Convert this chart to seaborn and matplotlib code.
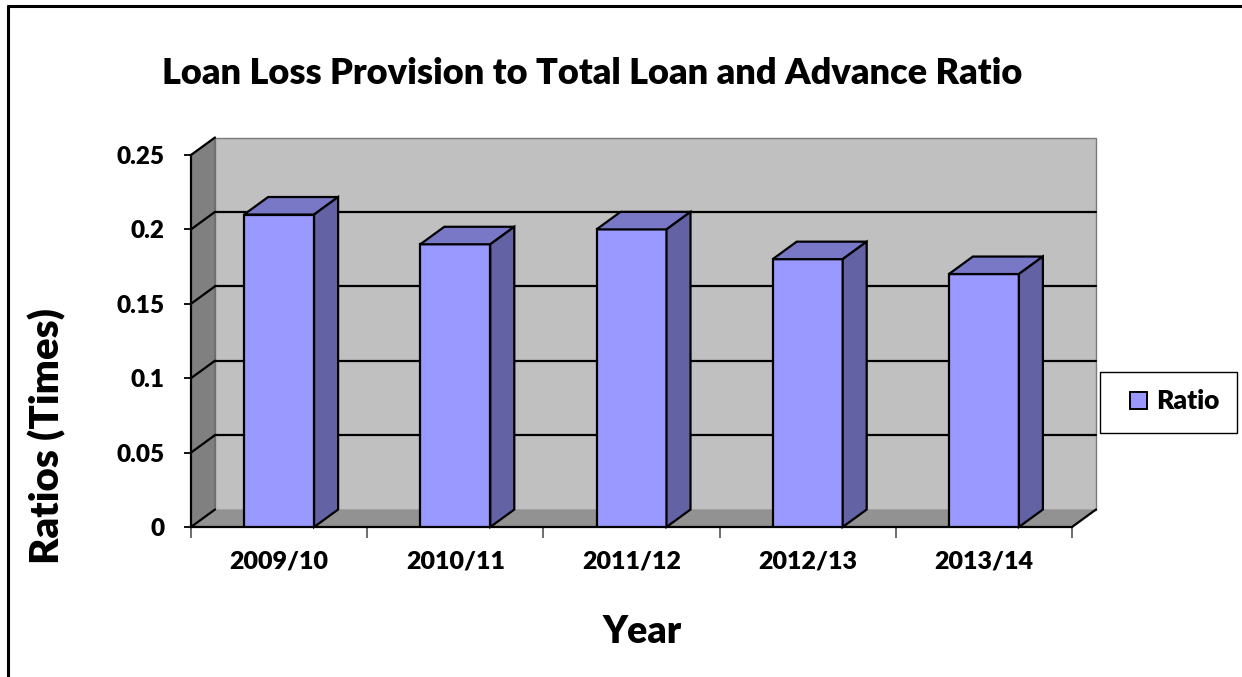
import matplotlib
matplotlib.use("Agg")
import matplotlib.pyplot as plt
import seaborn as sns
import pandas as pd
from matplotlib.patches import Polygon, Rectangle
from matplotlib.lines import Line2D

years = ["2009/10", "2010/11", "2011/12", "2012/13", "2013/14"]
ratios = [0.21, 0.19, 0.20, 0.18, 0.17]
y_ticks = [0, 0.05, 0.1, 0.15, 0.2, 0.25]
y_tick_labels = ["0", "0.05", "0.1", "0.15", "0.2", "0.25"]
series_name = "Ratio"

FRONT = "#9999FF"
TOP = "#7878C6"
SIDE = "#6262A4"
WALL_BACK = "#C0C0C0"
WALL_LEFT = "#808080"
FLOOR = "#929292"
WEIGHT = "heavy"

sns.set_theme(style="white")
plt.rcParams["font.family"] = ["Lato", "DejaVu Sans"]
plt.rcParams["text.color"] = "black"
plt.rcParams["xtick.color"] = "black"
plt.rcParams["ytick.color"] = "black"
plt.rcParams["xtick.labelcolor"] = "black"
plt.rcParams["ytick.labelcolor"] = "black"

W, H = 1242, 677
fig = plt.figure(figsize=(W / 100, H / 100), dpi=100)
fig.patch.set_facecolor("white")

ax = fig.add_axes([191 / W, 1 - 527 / H, (1072 - 191) / W, (527 - 155) / H])
ax.set_facecolor("none")

df = pd.DataFrame({"Year": years, "Ratio": ratios})
sns.barplot(data=df, x="Year", y="Ratio", color=FRONT, saturation=1,
            width=70 / 176.2, edgecolor="black", linewidth=1.6,
            ax=ax, zorder=5)
bars = list(ax.patches)

ax.set_xlim(-0.5, 4.5)
ax.set_ylim(0, 0.25)

# depth of the 3-D box in data units
dx = 24 / 176.2
dy = 17.5 / 1488
x0, x1 = -0.5, 4.5
ymax = 0.25

# walls and floor
ax.add_patch(Rectangle((x0 + dx, dy), x1 - x0, ymax, facecolor=WALL_BACK,
                       edgecolor="#7a7a7a", linewidth=1.0, clip_on=False, zorder=0.5))
ax.add_patch(Polygon([(x0, 0), (x0 + dx, dy), (x0 + dx, ymax + dy), (x0, ymax)],
                     closed=True, facecolor=WALL_LEFT, edgecolor="#6a6a6a",
                     linewidth=1.0, clip_on=False, zorder=0.6))
ax.add_patch(Polygon([(x0, 0), (x1, 0), (x1 + dx, dy), (x0 + dx, dy)],
                     closed=True, facecolor=FLOOR, edgecolor="none",
                     clip_on=False, zorder=0.6))

# gridlines on back wall and left wall
for yv in y_ticks:
    if 0 < yv < ymax:
        ax.add_line(Line2D([x0 + dx, x1 + dx], [yv + dy, yv + dy], color="black",
                           linewidth=1.6, clip_on=False, zorder=1))
    ax.add_line(Line2D([x0, x0 + dx], [yv, yv + dy], color="black",
                       linewidth=1.6, clip_on=False, zorder=1))
ax.add_line(Line2D([x1, x1 + dx], [0, dy], color="black", linewidth=1.6,
                   clip_on=False, zorder=1))

# top and side faces of each column
for p in bars:
    bx, bw, bh = p.get_x(), p.get_width(), p.get_height()
    ax.add_patch(Polygon([(bx, bh), (bx + bw, bh), (bx + bw + dx, bh + dy), (bx + dx, bh + dy)],
                         closed=True, facecolor=TOP, edgecolor="black", linewidth=1.6,
                         clip_on=False, zorder=5))
    ax.add_patch(Polygon([(bx + bw, 0), (bx + bw + dx, dy), (bx + bw + dx, bh + dy), (bx + bw, bh)],
                         closed=True, facecolor=SIDE, edgecolor="black", linewidth=1.6,
                         clip_on=False, zorder=5))

# axes styling
for s in ["top", "right"]:
    ax.spines[s].set_visible(False)
for s in ["left", "bottom"]:
    ax.spines[s].set_color("black")
    ax.spines[s].set_linewidth(1.6)
    ax.spines[s].set_zorder(2)
ax.grid(False)

ax.set_yticks(y_ticks)
ax.set_yticklabels(y_tick_labels, fontsize=17.5, fontweight=WEIGHT)
ax.tick_params(axis="y", which="major", direction="out", length=5, width=1.3,
               color="black", pad=14, left=True)
ax.set_xticks(range(len(years)))
ax.set_xticklabels(years, fontsize=18, fontweight=WEIGHT)
ax.set_xticks([i - 0.5 for i in range(len(years) + 1)], minor=True)
ax.tick_params(axis="x", which="major", length=0, pad=17)
ax.tick_params(axis="x", which="minor", direction="out", length=8, width=1.2,
               color="#555555", bottom=True)

ax.set_xlabel("")
ax.set_ylabel("")
fig.text(642 / W, 1 - 632 / H, "Year", fontsize=27, fontweight=WEIGHT,
         ha="center", va="center")
fig.text(47 / W, 1 - 436 / H, "Ratios (Times)", fontsize=29, fontweight=WEIGHT,
         ha="center", va="center", rotation=90)
fig.text(592 / W, 1 - 73 / H, "Loan Loss Provision to Total Loan and Advance Ratio",
         fontsize=26, fontweight=WEIGHT, ha="center", va="center")

# legend
fig.patches.append(Rectangle((1100 / W, 1 - 433 / H), 137 / W, 61 / H,
                             transform=fig.transFigure, facecolor="white",
                             edgecolor="black", linewidth=1.0, zorder=3))
fig.patches.append(Rectangle((1130 / W, 1 - 409 / H), 17 / W, 17 / H,
                             transform=fig.transFigure, facecolor=FRONT,
                             edgecolor="black", linewidth=1.4, zorder=4))
fig.text(1156 / W, 1 - 401 / H, series_name, fontsize=19, fontweight=WEIGHT,
         ha="left", va="center", zorder=5)

# outer frame (top and left edges)
fig.add_artist(Line2D([8 / W, 1], [1 - 5.5 / H, 1 - 5.5 / H], transform=fig.transFigure,
                      color="black", linewidth=2.2))
fig.add_artist(Line2D([8 / W, 8 / W], [0, 1 - 5.5 / H], transform=fig.transFigure,
                      color="black", linewidth=2.2))

fig.savefig("out.png", dpi=100)
